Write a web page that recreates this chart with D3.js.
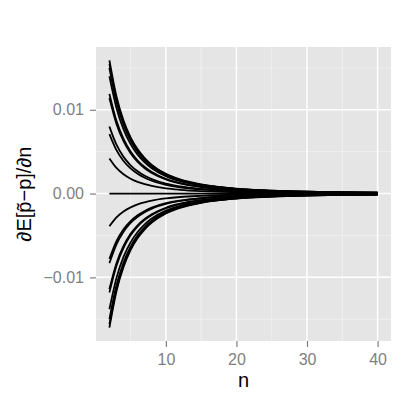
<!DOCTYPE html>
<html><head><meta charset="utf-8">
<script src="https://cdn.jsdelivr.net/npm/d3@7"></script>
<style>body{margin:0;background:#fff}svg{display:block}text{font-family:"Liberation Sans",Arial,sans-serif}</style>
</head><body>
<script>
// sample sizes at which each curve was read
const nValues = [2,3,4,5,6,7,8,10,12,15,20,25,30,35,40];
// curves (value of dE[p~ - p]/dn at each n)
const curve01 = [0.0159,0.01159,0.00871,0.00671,0.00528,0.00423,0.00343,0.00235,0.00169,0.00109,0.00059,0.00035,0.00023,0.00016,0.00011];
const curve02 = [0.0155,0.01130,0.00849,0.00654,0.00515,0.00412,0.00335,0.00229,0.00164,0.00106,0.00057,0.00035,0.00022,0.00015,0.00011];
const curve03 = [0.0150,0.01094,0.00822,0.00633,0.00498,0.00399,0.00324,0.00222,0.00159,0.00103,0.00056,0.00033,0.00022,0.00015,0.00011];
const curve04 = [0.0140,0.01021,0.00767,0.00591,0.00465,0.00372,0.00302,0.00207,0.00148,0.00096,0.00052,0.00031,0.00020,0.00014,0.00010];
const curve05 = [0.0119,0.00868,0.00652,0.00502,0.00395,0.00317,0.00257,0.00176,0.00126,0.00082,0.00044,0.00027,0.00017,0.00012,0.00008];
const curve06 = [0.0114,0.00831,0.00625,0.00481,0.00378,0.00303,0.00246,0.00169,0.00121,0.00078,0.00042,0.00025,0.00016,0.00011,0.00008];
const curve07 = [0.0080,0.00583,0.00438,0.00338,0.00266,0.00213,0.00173,0.00118,0.00085,0.00055,0.00030,0.00018,0.00012,0.00008,0.00006];
const curve08 = [0.0071,0.00518,0.00389,0.00300,0.00236,0.00189,0.00153,0.00105,0.00075,0.00049,0.00026,0.00016,0.00010,0.00007,0.00005];
const curve09 = [0.0042,0.00306,0.00230,0.00177,0.00139,0.00112,0.00091,0.00062,0.00045,0.00029,0.00016,0.00009,0.00006,0.00004,0.00003];
const curve10 = [0,0,0,0,0,0,0,0,0,0,0,0,0,0,0];
const curve11 = [-0.0039,-0.00284,-0.00214,-0.00165,-0.00129,-0.00104,-0.00084,-0.00058,-0.00041,-0.00027,-0.00014,-0.00009,-0.00006,-0.00004,-0.00003];
const curve12 = [-0.0078,-0.00569,-0.00427,-0.00329,-0.00259,-0.00207,-0.00168,-0.00115,-0.00083,-0.00053,-0.00029,-0.00017,-0.00011,-0.00008,-0.00005];
const curve13 = [-0.0083,-0.00605,-0.00455,-0.00350,-0.00276,-0.00221,-0.00179,-0.00123,-0.00088,-0.00057,-0.00031,-0.00019,-0.00012,-0.00008,-0.00006];
const curve14 = [-0.0114,-0.00831,-0.00625,-0.00481,-0.00378,-0.00303,-0.00246,-0.00169,-0.00121,-0.00078,-0.00042,-0.00025,-0.00016,-0.00011,-0.00008];
const curve15 = [-0.0118,-0.00860,-0.00647,-0.00498,-0.00392,-0.00314,-0.00255,-0.00175,-0.00125,-0.00081,-0.00044,-0.00026,-0.00017,-0.00012,-0.00008];
const curve16 = [-0.0138,-0.01006,-0.00756,-0.00582,-0.00458,-0.00367,-0.00298,-0.00204,-0.00146,-0.00095,-0.00051,-0.00031,-0.00020,-0.00014,-0.00010];
const curve17 = [-0.0150,-0.01094,-0.00822,-0.00633,-0.00498,-0.00399,-0.00324,-0.00222,-0.00159,-0.00103,-0.00056,-0.00033,-0.00022,-0.00015,-0.00011];
const curve18 = [-0.0156,-0.01137,-0.00855,-0.00658,-0.00518,-0.00415,-0.00337,-0.00231,-0.00165,-0.00107,-0.00058,-0.00035,-0.00022,-0.00015,-0.00011];
const curve19 = [-0.0160,-0.01166,-0.00877,-0.00675,-0.00531,-0.00426,-0.00346,-0.00237,-0.00170,-0.00110,-0.00059,-0.00036,-0.00023,-0.00016,-0.00011];
const curves = [curve01,curve02,curve03,curve04,curve05,curve06,curve07,curve08,curve09,curve10,
                curve11,curve12,curve13,curve14,curve15,curve16,curve17,curve18,curve19];

const xTicks = [10,20,30,40];
const xMinor = [5,15,25,35];
const yTicks = [-0.01,0,0.01];
const yTickLabels = ["\u22120.01","0.00","0.01"];
const yMinor = [-0.015,-0.005,0.005,0.015];
const xTitle = "n";
const yTitle = "\u2202E[p\u0303\u2212p]/\u2202n";

const W = 415, H = 415;
const P = {l:96, r:391, t:47, b:341};

const svg = d3.select("body").append("svg").attr("width",W).attr("height",H);

const xExt = d3.extent(nValues);
const xPad = (xExt[1]-xExt[0])*0.05;
const x = d3.scaleLinear().domain([xExt[0]-xPad, xExt[1]+xPad]).range([P.l,P.r]);
const yExt = d3.extent(curves.flat());
const yPad = (yExt[1]-yExt[0])*0.05;
const y = d3.scaleLinear().domain([yExt[0]-yPad, yExt[1]+yPad]).range([P.b,P.t]);

svg.append("rect").attr("x",P.l).attr("y",P.t).attr("width",P.r-P.l).attr("height",P.b-P.t).attr("fill","#E5E5E5");

const g = svg.append("g");
g.selectAll(".xmin").data(xMinor).enter().append("line")
  .attr("x1",d=>x(d)).attr("x2",d=>x(d)).attr("y1",P.t).attr("y2",P.b)
  .attr("stroke","#F2F2F2").attr("stroke-width",0.8);
g.selectAll(".ymin").data(yMinor).enter().append("line")
  .attr("y1",d=>y(d)).attr("y2",d=>y(d)).attr("x1",P.l).attr("x2",P.r)
  .attr("stroke","#F2F2F2").attr("stroke-width",0.8);
g.selectAll(".xmaj").data(xTicks).enter().append("line")
  .attr("x1",d=>x(d)).attr("x2",d=>x(d)).attr("y1",P.t).attr("y2",P.b)
  .attr("stroke","#FFFFFF").attr("stroke-width",1.5);
g.selectAll(".ymaj").data(yTicks).enter().append("line")
  .attr("y1",d=>y(d)).attr("y2",d=>y(d)).attr("x1",P.l).attr("x2",P.r)
  .attr("stroke","#FFFFFF").attr("stroke-width",1.5);

const line = d3.line().x((d,i)=>x(nValues[i])).y(d=>y(d)).curve(d3.curveMonotoneX);
svg.append("g").selectAll("path").data(curves).enter().append("path")
  .attr("d",line).attr("fill","none").attr("stroke","#000").attr("stroke-width",1.8)
  .attr("stroke-linejoin","round");

// axes
const xAxis = svg.append("g").attr("transform",`translate(0,${P.b})`)
  .call(d3.axisBottom(x).tickValues(xTicks).tickSize(6).tickPadding(7).tickFormat(d3.format("d")));
const yAxis = svg.append("g").attr("transform",`translate(${P.l},0)`)
  .call(d3.axisLeft(y).tickValues(yTicks).tickSize(6).tickPadding(6).tickFormat((d,i)=>yTickLabels[i]));
[xAxis,yAxis].forEach(a=>{
  a.select(".domain").remove();
  a.selectAll(".tick line").attr("stroke","#7F7F7F").attr("stroke-width",1.2);
  a.selectAll(".tick text").attr("fill","#7F7F7F").attr("font-size","16px")
    .attr("font-family","'Liberation Sans',Arial,sans-serif");
});

svg.append("text").attr("x",(P.l+P.r)/2).attr("y",387).attr("text-anchor","middle")
  .attr("font-size","20px").attr("fill","#000").text(xTitle);
svg.append("text").attr("transform",`translate(31,${(P.t+P.b)/2}) rotate(-90)`)
  .attr("text-anchor","middle").attr("font-size","20px").attr("fill","#000").text(yTitle);
</script>
</body></html>
